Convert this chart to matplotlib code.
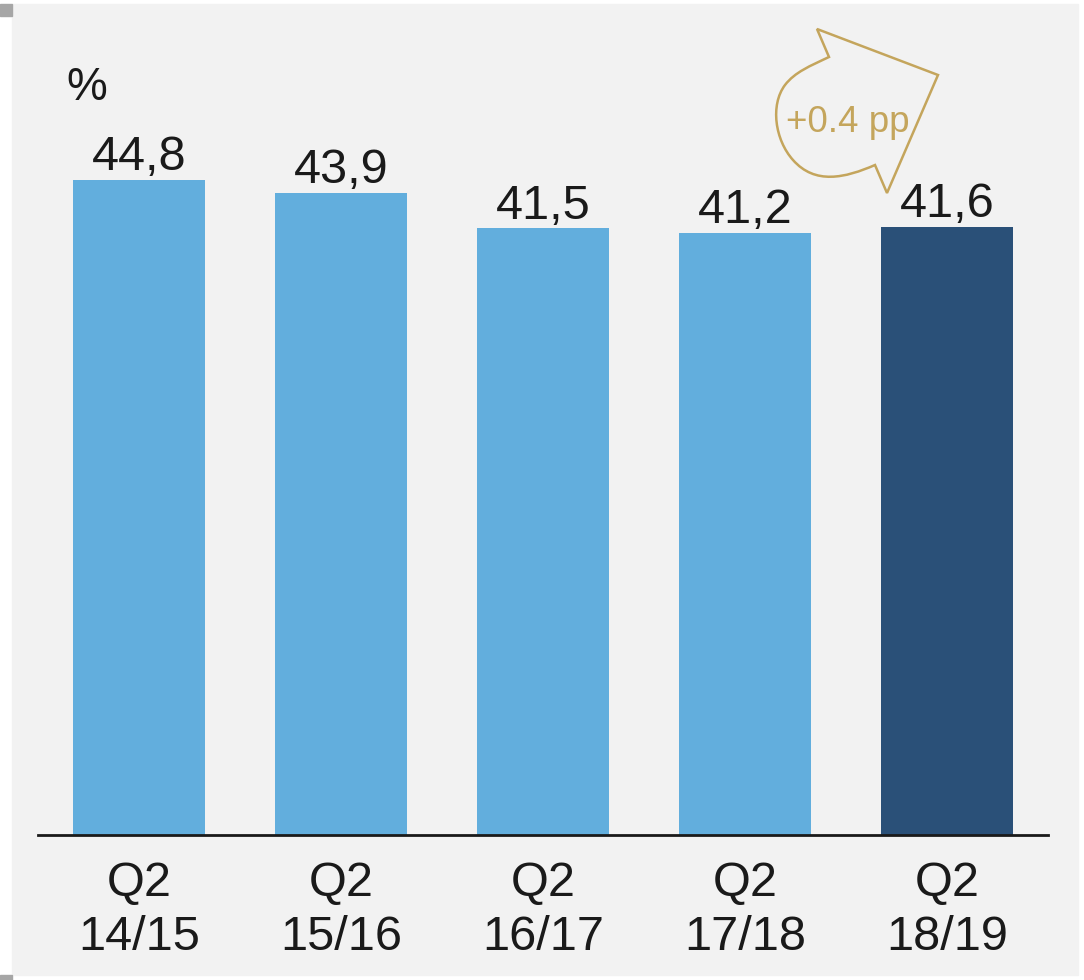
import matplotlib.pyplot as plt
from matplotlib.patches import Rectangle, PathPatch
from matplotlib.path import Path

W, H = 1084, 980

categories = ["Q2\n14/15", "Q2\n15/16", "Q2\n16/17", "Q2\n17/18", "Q2\n18/19"]
values = [44.8, 43.9, 41.5, 41.2, 41.6]
labels = ["44,8", "43,9", "41,5", "41,2", "41,6"]
bar_colors = ["#62aedd", "#62aedd", "#62aedd", "#62aedd", "#2a5078"]
delta_text = "+0.4 pp"

plt.rcParams['font.family'] = ['Liberation Sans', 'DejaVu Sans']

def px(x, y):
    # pixel coords (from top-left) -> figure fraction
    return x / W, 1 - y / H

fig = plt.figure(figsize=(W / 100, H / 100), dpi=100)
fig.patch.set_facecolor("white")

# grey panel and little corner squares
x0, y0 = px(12, 975)
fig.patches.append(Rectangle((x0, y0), (1078 - 12) / W, (975 - 4) / H,
                             transform=fig.transFigure, color="#f2f2f2", zorder=-5))
for yy in (4, 975):
    a, b = px(0, yy + 12)
    fig.patches.append(Rectangle((a, b), 12 / W, 12 / H, transform=fig.transFigure,
                                 color="#a6a6a6", zorder=-5))

l, b = px(38, 835)
r, t = px(1048, 40)
ax = fig.add_axes([l, b, r - l, t - b])
ax.patch.set_visible(False)

xs = range(len(values))
ax.bar(xs, values, width=0.653, color=bar_colors, zorder=2)
ax.set_xlim(-0.5, len(values) - 0.5)
ax.set_ylim(0, (835 - 40) / 14.62)

for i, (v, s) in enumerate(zip(values, labels)):
    ax.annotate(s, (i, v), xytext=(0, 7), textcoords="offset points",
                ha="center", va="baseline", fontsize=35, color="#1a1a1a")

for sp in ["top", "right", "left"]:
    ax.spines[sp].set_visible(False)
ax.spines["bottom"].set_linewidth(2)
ax.spines["bottom"].set_color("#1a1a1a")
ax.spines["bottom"].set_zorder(3)
ax.set_yticks([])
ax.set_xticks(list(xs))
ax.set_xticklabels(categories, fontsize=35, color="#1a1a1a", linespacing=1.25)
ax.tick_params(axis="x", length=0, pad=19)

fig.text(*px(66, 100), "%", fontsize=33, color="#1a1a1a", ha="left", va="baseline")

# curved arrow callout
pts = [(817, 29), (938, 75), (887, 193), (875, 165),
       (845, 178), (815, 185), (793, 160),
       (775, 140), (770, 105), (785, 85),
       (795, 72), (810, 66), (829, 57),
       (817, 29)]
codes = [Path.MOVETO, Path.LINETO, Path.LINETO, Path.LINETO,
         Path.CURVE4, Path.CURVE4, Path.CURVE4,
         Path.CURVE4, Path.CURVE4, Path.CURVE4,
         Path.CURVE4, Path.CURVE4, Path.CURVE4,
         Path.CLOSEPOLY]
path = Path([px(x, y) for x, y in pts], codes)
fig.add_artist(PathPatch(path, transform=fig.transFigure, facecolor="none",
                         edgecolor="#c4a55c", linewidth=1.8))
fig.text(*px(786, 132), delta_text, fontsize=26.5, color="#c4a55c", ha="left", va="baseline")

fig.savefig("out.png", dpi=100)
